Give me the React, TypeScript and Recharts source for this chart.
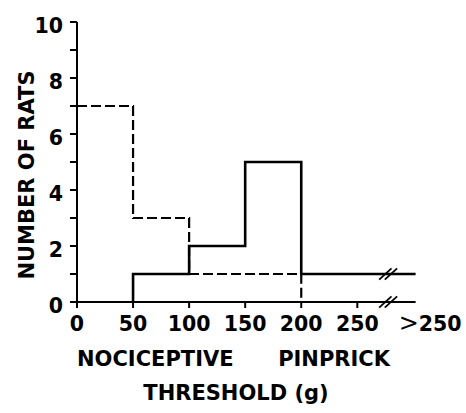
import { LineChart, Line, XAxis, YAxis, ReferenceLine } from 'recharts'

// dashed series: threshold (g) where each step starts, and number of rats
const DASH_X = [0, 50, 100, 200]
const DASH_Y = [7, 3, 1, 0]

// solid series
const SOLID_X = [50, 50, 100, 150, 200, 302]
const SOLID_Y = [0, 1, 2, 5, 1, 1]

const X_TICKS = [0, 50, 100, 150, 200, 250, 315]
const Y_TICKS = [0, 1, 2, 3, 4, 5, 6, 7, 8, 9, 10]
const BREAK_AT = [275, 280]
const AXIS_END = 302

const dashData = DASH_X.map((x, i) => ({ x, y: DASH_Y[i] }))
const solidData = SOLID_X.map((x, i) => ({ x, y: SOLID_Y[i] }))

const FONT = '"DejaVu Sans", sans-serif'

function XTick(props: any) {
  const { x, y, payload } = props
  const v = payload.value
  if (v > 250) {
    return (
      <text x={x} y={y + 29} textAnchor="middle" fontSize={20.5} fontWeight="bold" fill="#000">
        <tspan fontWeight="normal" fontSize={24}>&gt;</tspan>250
      </text>
    )
  }
  return (
    <g>
      <line x1={x} x2={x} y1={y} y2={y + 6} stroke="#000" strokeWidth={2} />
      <text x={x} y={y + 29} textAnchor="middle" fontSize={20.5} fontWeight="bold" fill="#000">
        {v}
      </text>
    </g>
  )
}

function YTick(props: any) {
  const { x, y, payload } = props
  const v = payload.value
  return (
    <g>
      <line x1={x - 7} x2={x} y1={y} y2={y} stroke="#000" strokeWidth={2} />
      {v % 2 === 0 && (
        <text x={x - 14} y={y + 11} textAnchor="end" fontSize={20.5} fontWeight="bold" fill="#000">
          {v}
        </text>
      )}
    </g>
  )
}

function XTitle() {
  return (
    <g fontWeight="bold" fill="#000" fontSize={21}>
      <text x={77} y={366}>NOCICEPTIVE</text>
      <text x={390} y={366} textAnchor="end">PINPRICK</text>
      <text x={236} y={400} textAnchor="middle">THRESHOLD (g)</text>
    </g>
  )
}

function YTitle() {
  return (
    <text
      x={27}
      y={175}
      transform="rotate(-90, 27, 175)"
      textAnchor="middle"
      dominantBaseline="central"
      fontSize={21}
      fontWeight="bold"
      fill="#000"
    >
      NUMBER OF RATS
    </text>
  )
}

export default function App() {
  return (
    <div style={{ position: 'absolute', left: 0, top: 0, background: '#fff' }}>
      <LineChart
        width={466}
        height={413}
        margin={{ top: 22, right: 19, left: 17, bottom: 81 }}
        style={{ fontFamily: FONT }}
      >
        <XAxis
          dataKey="x"
          type="number"
          domain={[0, 330]}
          ticks={X_TICKS}
          interval={0}
          axisLine={false}
          tickLine={false}
          tickSize={0}
          tickMargin={0}
          height={30}
          tick={<XTick />}
          label={{ content: () => <XTitle /> }}
        />
        <YAxis
          type="number"
          domain={[0, 10]}
          ticks={Y_TICKS}
          interval={0}
          width={60}
          axisLine={{ stroke: '#000', strokeWidth: 2 }}
          tickLine={false}
          tickSize={0}
          tickMargin={0}
          tick={<YTick />}
          label={{ content: () => <YTitle /> }}
        />
        <ReferenceLine
          segment={[{ x: 0, y: 0 }, { x: AXIS_END, y: 0 }]}
          stroke="#000"
          strokeWidth={2}
          ifOverflow="visible"
        />
        <Line
          data={dashData}
          dataKey="y"
          type="stepAfter"
          stroke="#000"
          strokeWidth={2.2}
          strokeDasharray="10 4"
          dot={false}
          isAnimationActive={false}
        />
        <Line
          data={solidData}
          dataKey="y"
          type="stepAfter"
          stroke="#000"
          strokeWidth={2.6}
          dot={false}
          isAnimationActive={false}
        />
        {BREAK_AT.map((b) => (
          <ReferenceLine
            key={'a' + b}
            segment={[{ x: b - 5.5, y: -0.2 }, { x: b + 5.5, y: 0.2 }]}
            stroke="#000"
            strokeWidth={1.8}
            ifOverflow="visible"
          />
        ))}
        {BREAK_AT.map((b) => (
          <ReferenceLine
            key={'s' + b}
            segment={[{ x: b - 5.5, y: 0.8 }, { x: b + 5.5, y: 1.2 }]}
            stroke="#000"
            strokeWidth={1.8}
            ifOverflow="visible"
          />
        ))}
      </LineChart>
    </div>
  )
}
